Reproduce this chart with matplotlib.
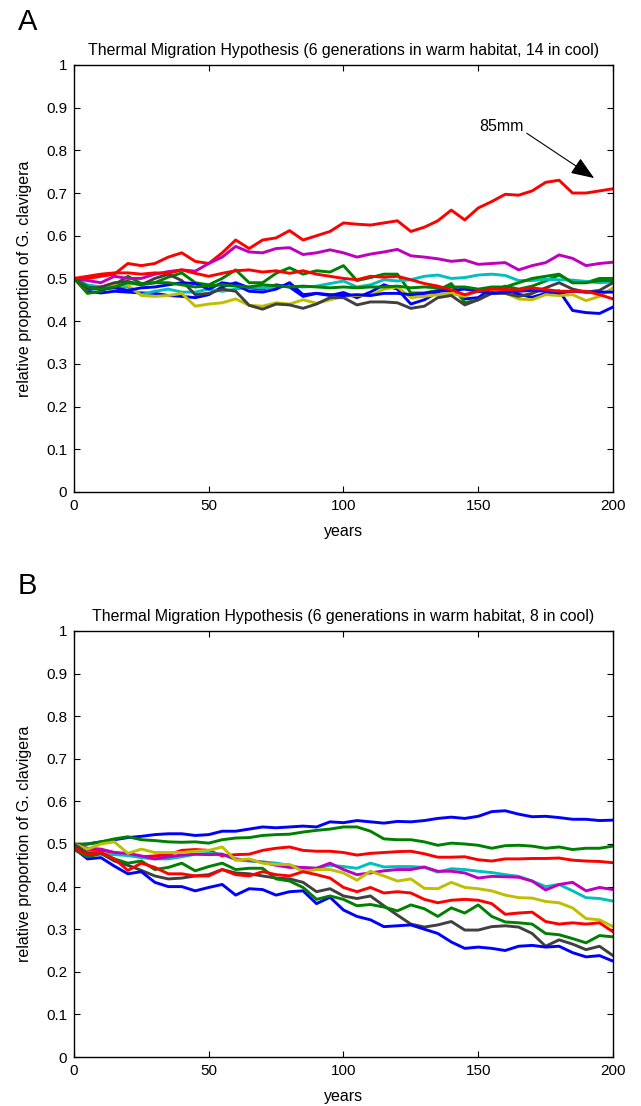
#!/usr/bin/env python3
"""Two-panel plot of simulated G. clavigera proportions under the thermal migration hypothesis."""

import matplotlib

matplotlib.use("Agg")
import matplotlib.pyplot as plt
import numpy as np

plt.rcParams["font.family"] = ["Liberation Sans", "DejaVu Sans"]

YEARS = list(range(0, 201, 5))

# Panel A: 6 generations warm, 14 cool (values read every 5 years)
A_BLUE_1 = [0.50, 0.47, 0.466, 0.47, 0.468, 0.466, 0.465, 0.46, 0.458, 0.455, 0.462,
            0.48, 0.49, 0.478, 0.475, 0.485, 0.48, 0.458, 0.465, 0.46, 0.467,
            0.455, 0.468, 0.485, 0.475, 0.44, 0.45, 0.468, 0.485, 0.452, 0.455,
            0.477, 0.475, 0.463, 0.456, 0.465, 0.471, 0.425, 0.42, 0.418, 0.433]
A_GREEN_1 = [0.50, 0.465, 0.47, 0.485, 0.505, 0.488, 0.49, 0.503, 0.513, 0.49, 0.485,
             0.50, 0.52, 0.49, 0.49, 0.512, 0.525, 0.51, 0.518, 0.515, 0.53,
             0.495, 0.502, 0.51, 0.51, 0.466, 0.466, 0.472, 0.488, 0.443, 0.45,
             0.468, 0.482, 0.475, 0.482, 0.494, 0.508, 0.49, 0.49, 0.50, 0.50]
A_RED_1 = [0.50, 0.50, 0.505, 0.51, 0.535, 0.53, 0.535, 0.55, 0.56, 0.54, 0.535,
           0.56, 0.59, 0.57, 0.59, 0.595, 0.612, 0.59, 0.60, 0.61, 0.63,
           0.627, 0.625, 0.63, 0.635, 0.61, 0.62, 0.635, 0.66, 0.637, 0.665,
           0.68, 0.697, 0.695, 0.705, 0.725, 0.73, 0.70, 0.70, 0.705, 0.71]
A_CYAN = [0.50, 0.485, 0.48, 0.482, 0.48, 0.462, 0.47, 0.475, 0.468, 0.468, 0.475,
          0.47, 0.475, 0.48, 0.478, 0.48, 0.482, 0.48, 0.482, 0.488, 0.494,
          0.48, 0.485, 0.497, 0.494, 0.497, 0.505, 0.508, 0.50, 0.502, 0.508,
          0.51, 0.507, 0.495, 0.495, 0.498, 0.497, 0.496, 0.493, 0.49, 0.492]
A_MAGENTA = [0.50, 0.495, 0.49, 0.505, 0.50, 0.50, 0.51, 0.516, 0.52, 0.517, 0.535,
             0.55, 0.575, 0.562, 0.56, 0.57, 0.572, 0.556, 0.56, 0.567, 0.56,
             0.55, 0.557, 0.562, 0.568, 0.553, 0.55, 0.546, 0.54, 0.543, 0.533,
             0.535, 0.537, 0.52, 0.53, 0.537, 0.555, 0.547, 0.53, 0.535, 0.538]
A_YELLOW = [0.50, 0.475, 0.48, 0.485, 0.485, 0.46, 0.458, 0.46, 0.465, 0.435, 0.44,
            0.443, 0.452, 0.437, 0.435, 0.443, 0.44, 0.45, 0.442, 0.45, 0.458,
            0.46, 0.46, 0.475, 0.48, 0.455, 0.458, 0.462, 0.465, 0.458, 0.472,
            0.475, 0.466, 0.452, 0.45, 0.462, 0.46, 0.462, 0.448, 0.458, 0.478]
A_GRAY = [0.50, 0.475, 0.48, 0.49, 0.493, 0.485, 0.50, 0.51, 0.495, 0.462, 0.465,
          0.475, 0.47, 0.437, 0.428, 0.44, 0.438, 0.43, 0.44, 0.455, 0.455,
          0.438, 0.445, 0.445, 0.443, 0.43, 0.435, 0.455, 0.46, 0.438, 0.45,
          0.465, 0.465, 0.458, 0.465, 0.478, 0.49, 0.475, 0.468, 0.472, 0.49]
A_BLUE_2 = [0.50, 0.48, 0.475, 0.478, 0.472, 0.478, 0.48, 0.485, 0.49, 0.488, 0.475,
            0.49, 0.485, 0.47, 0.468, 0.475, 0.49, 0.462, 0.465, 0.462, 0.46,
            0.462, 0.46, 0.465, 0.465, 0.462, 0.465, 0.47, 0.472, 0.475, 0.47,
            0.465, 0.468, 0.47, 0.472, 0.47, 0.466, 0.47, 0.468, 0.468, 0.468]
A_GREEN_2 = [0.50, 0.48, 0.475, 0.48, 0.49, 0.485, 0.49, 0.49, 0.485, 0.48, 0.483,
             0.485, 0.482, 0.48, 0.485, 0.483, 0.48, 0.482, 0.48, 0.478, 0.48,
             0.478, 0.48, 0.48, 0.482, 0.478, 0.48, 0.478, 0.48, 0.48, 0.475,
             0.48, 0.48, 0.49, 0.50, 0.505, 0.51, 0.49, 0.49, 0.495, 0.495]
A_RED_2 = [0.50, 0.505, 0.51, 0.513, 0.513, 0.51, 0.513, 0.512, 0.52, 0.512, 0.505,
           0.512, 0.518, 0.52, 0.515, 0.518, 0.512, 0.518, 0.51, 0.505, 0.50,
           0.497, 0.505, 0.503, 0.505, 0.497, 0.488, 0.482, 0.473, 0.462, 0.47,
           0.475, 0.474, 0.473, 0.478, 0.474, 0.47, 0.47, 0.47, 0.462, 0.452]

# Panel B: 6 generations warm, 8 cool
B_BLUE_1 = [0.497, 0.50, 0.505, 0.51, 0.515, 0.518, 0.522, 0.524, 0.524, 0.52, 0.522,
            0.53, 0.53, 0.535, 0.54, 0.538, 0.54, 0.542, 0.54, 0.552, 0.55,
            0.555, 0.552, 0.549, 0.553, 0.552, 0.555, 0.56, 0.563, 0.56, 0.565,
            0.576, 0.578, 0.57, 0.564, 0.565, 0.562, 0.558, 0.558, 0.555, 0.556]
B_GREEN_1 = [0.50, 0.50, 0.505, 0.512, 0.517, 0.51, 0.508, 0.505, 0.504, 0.505, 0.502,
             0.51, 0.514, 0.515, 0.52, 0.522, 0.523, 0.528, 0.532, 0.535, 0.54,
             0.54, 0.53, 0.512, 0.51, 0.51, 0.505, 0.497, 0.502, 0.50, 0.497,
             0.49, 0.496, 0.497, 0.495, 0.49, 0.493, 0.487, 0.49, 0.49, 0.495]
B_RED_1 = [0.49, 0.485, 0.485, 0.48, 0.475, 0.47, 0.472, 0.475, 0.485, 0.487, 0.485,
           0.472, 0.475, 0.476, 0.485, 0.49, 0.493, 0.485, 0.483, 0.483, 0.48,
           0.474, 0.478, 0.48, 0.482, 0.483, 0.477, 0.469, 0.469, 0.47, 0.463,
           0.46, 0.465, 0.465, 0.466, 0.466, 0.467, 0.462, 0.46, 0.459, 0.456]
B_CYAN = [0.50, 0.48, 0.477, 0.475, 0.473, 0.468, 0.465, 0.465, 0.47, 0.476, 0.478,
          0.476, 0.463, 0.46, 0.458, 0.455, 0.45, 0.443, 0.443, 0.45, 0.447,
          0.443, 0.455, 0.446, 0.447, 0.447, 0.445, 0.434, 0.442, 0.44, 0.436,
          0.433, 0.428, 0.424, 0.413, 0.40, 0.405, 0.39, 0.374, 0.372, 0.366]
B_MAGENTA = [0.50, 0.49, 0.488, 0.48, 0.478, 0.472, 0.465, 0.47, 0.474, 0.476, 0.475,
             0.476, 0.465, 0.462, 0.457, 0.45, 0.445, 0.445, 0.443, 0.455, 0.44,
             0.428, 0.432, 0.437, 0.44, 0.44, 0.446, 0.436, 0.436, 0.432, 0.42,
             0.424, 0.423, 0.422, 0.413, 0.392, 0.405, 0.41, 0.39, 0.398, 0.393]
B_YELLOW = [0.50, 0.488, 0.50, 0.505, 0.478, 0.488, 0.48, 0.48, 0.48, 0.483, 0.485,
            0.493, 0.462, 0.465, 0.455, 0.452, 0.452, 0.435, 0.44, 0.44, 0.432,
            0.415, 0.436, 0.425, 0.413, 0.418, 0.396, 0.395, 0.41, 0.398, 0.395,
            0.39, 0.38, 0.374, 0.373, 0.365, 0.362, 0.35, 0.325, 0.322, 0.306]
B_GRAY = [0.50, 0.478, 0.478, 0.46, 0.45, 0.438, 0.425, 0.418, 0.42, 0.425, 0.428,
          0.44, 0.432, 0.43, 0.425, 0.42, 0.418, 0.41, 0.388, 0.395, 0.378,
          0.372, 0.378, 0.355, 0.333, 0.312, 0.305, 0.31, 0.318, 0.298, 0.298,
          0.306, 0.308, 0.305, 0.29, 0.26, 0.275, 0.265, 0.252, 0.26, 0.238]
B_BLUE_2 = [0.49, 0.465, 0.468, 0.448, 0.43, 0.435, 0.41, 0.40, 0.40, 0.39, 0.398,
            0.405, 0.38, 0.395, 0.393, 0.38, 0.388, 0.39, 0.36, 0.375, 0.345,
            0.33, 0.322, 0.306, 0.308, 0.31, 0.30, 0.29, 0.27, 0.255, 0.258,
            0.255, 0.25, 0.26, 0.262, 0.258, 0.26, 0.245, 0.235, 0.238, 0.225]
B_GREEN_2 = [0.487, 0.47, 0.477, 0.465, 0.455, 0.46, 0.44, 0.445, 0.455, 0.437, 0.447,
             0.455, 0.44, 0.443, 0.443, 0.418, 0.413, 0.398, 0.37, 0.378, 0.37,
             0.355, 0.358, 0.352, 0.343, 0.357, 0.348, 0.33, 0.35, 0.338, 0.357,
             0.33, 0.317, 0.315, 0.312, 0.29, 0.287, 0.278, 0.268, 0.285, 0.282]
B_RED_2 = [0.49, 0.475, 0.48, 0.465, 0.438, 0.455, 0.445, 0.43, 0.43, 0.425, 0.425,
           0.44, 0.428, 0.425, 0.435, 0.428, 0.425, 0.435, 0.428, 0.42, 0.398,
           0.388, 0.398, 0.385, 0.388, 0.385, 0.37, 0.362, 0.368, 0.37, 0.368,
           0.36, 0.335, 0.338, 0.34, 0.318, 0.312, 0.315, 0.312, 0.315, 0.294]

# MATLAB default line colour order
BLUE = (0, 0, 1)
GREEN = (0, 0.5, 0)
RED = (1, 0, 0)
CYAN = (0, 0.75, 0.75)
MAGENTA = (0.75, 0, 0.75)
YELLOW = (0.75, 0.75, 0)
GRAY = (0.25, 0.25, 0.25)
COLORS = [BLUE, GREEN, RED, CYAN, MAGENTA, YELLOW, GRAY, BLUE, GREEN, RED]

PANEL_A = [A_BLUE_1, A_GREEN_1, A_RED_1, A_CYAN, A_MAGENTA, A_YELLOW, A_GRAY,
           A_BLUE_2, A_GREEN_2, A_RED_2]
PANEL_B = [B_BLUE_1, B_GREEN_1, B_RED_1, B_CYAN, B_MAGENTA, B_YELLOW, B_GRAY,
           B_BLUE_2, B_GREEN_2, B_RED_2]

TITLE_A = "Thermal Migration Hypothesis (6 generations in warm habitat, 14 in cool)"
TITLE_B = "Thermal Migration Hypothesis (6 generations in warm habitat, 8 in cool)"

X_TICKS = [0, 50, 100, 150, 200]
Y_TICKS = [0, 0.1, 0.2, 0.3, 0.4, 0.5, 0.6, 0.7, 0.8, 0.9, 1]
Y_TICK_LABELS = ["0", "0.1", "0.2", "0.3", "0.4", "0.5", "0.6", "0.7", "0.8", "0.9", "1"]


def style_axes(ax, title):
    ax.set_xlim(0, 200)
    ax.set_ylim(0, 1)
    ax.set_xticks(X_TICKS)
    ax.set_xticklabels([str(t) for t in X_TICKS])
    ax.set_yticks(Y_TICKS)
    ax.set_yticklabels(Y_TICK_LABELS)
    ax.tick_params(direction="in", top=True, right=True, length=4, width=0.8,
                   labelsize=11, pad=5)
    for spine in ax.spines.values():
        spine.set_linewidth(1.0)
    ax.set_title(title, fontsize=11.4, pad=7)
    ax.set_xlabel("years", fontsize=11.5, labelpad=8)
    ax.set_ylabel("relative proportion of G. clavigera", fontsize=11.5, labelpad=10)


fig = plt.figure(figsize=(6.41, 11.06), dpi=100)
ax_a = fig.add_axes([0.1154, 0.5552, 0.8409, 0.3861])
ax_b = fig.add_axes([0.1154, 0.0443, 0.8409, 0.3852])

years = np.array(YEARS)
for series, color in zip(PANEL_A, COLORS):
    ax_a.plot(years, series, color=color, linewidth=2.1)
for series, color in zip(PANEL_B, COLORS):
    ax_b.plot(years, series, color=color, linewidth=2.1)

style_axes(ax_a, TITLE_A)
style_axes(ax_b, TITLE_B)

ax_a.text(158.5, 0.855, "85mm", fontsize=11.5, ha="center", va="center")
ax_a.annotate("", xy=(193, 0.735), xytext=(168, 0.84),
              arrowprops=dict(arrowstyle="-|>,head_length=0.9,head_width=0.35",
                              color="black", lw=0.8, mutation_scale=16,
                              shrinkA=0, shrinkB=0))

fig.text(18 / 641, 1 - 22 / 1106, "A", fontsize=21, ha="left", va="center")
fig.text(18 / 641, 1 - 586 / 1106, "B", fontsize=21, ha="left", va="center")

fig.savefig("out.png", dpi=100)
